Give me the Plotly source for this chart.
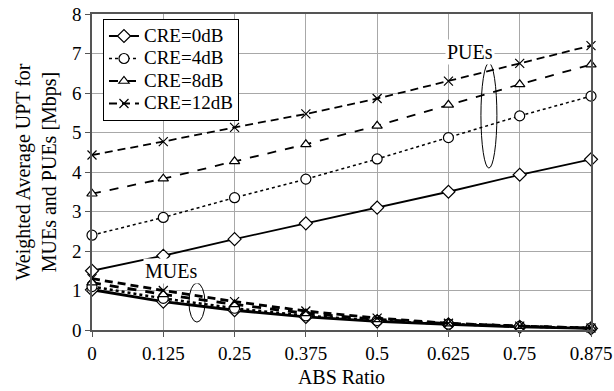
import plotly.graph_objects as go

abs_ratio = [0, 0.125, 0.25, 0.375, 0.5, 0.625, 0.75, 0.875]
x_ticklabels = ["0", "0.125", "0.25", "0.375", "0.5", "0.625", "0.75", "0.875"]

pue_cre0 = [1.50, 1.88, 2.30, 2.70, 3.10, 3.50, 3.93, 4.32]
pue_cre4 = [2.40, 2.85, 3.35, 3.82, 4.33, 4.87, 5.42, 5.92]
pue_cre8 = [3.45, 3.83, 4.27, 4.70, 5.17, 5.70, 6.22, 6.72]
pue_cre12 = [4.43, 4.77, 5.13, 5.47, 5.86, 6.30, 6.75, 7.20]

mue_cre0 = [1.02, 0.72, 0.50, 0.33, 0.22, 0.14, 0.08, 0.04]
mue_cre4 = [1.10, 0.80, 0.55, 0.36, 0.24, 0.15, 0.09, 0.05]
mue_cre8 = [1.20, 0.90, 0.65, 0.42, 0.27, 0.16, 0.10, 0.05]
mue_cre12 = [1.30, 1.00, 0.72, 0.48, 0.30, 0.17, 0.10, 0.05]

series = [
    ("CRE=0dB", pue_cre0, mue_cre0, "solid", "diamond", 1.8, 10),
    ("CRE=4dB", pue_cre4, mue_cre4, "dot", "circle", 1.5, 10),
    ("CRE=8dB", pue_cre8, mue_cre8, "dash", "triangle-up", 1.8, 9),
    ("CRE=12dB", pue_cre12, mue_cre12, "8px,5px", "x-thin", 1.8, 9),
]

font_family = "Liberation Serif"
fig = go.Figure()
for name, pue, mue, dash, sym, w, ms in series:
    mk = dict(symbol=sym, size=ms, color="white", line=dict(color="black", width=1.2))
    fig.add_trace(go.Scatter(
        x=abs_ratio, y=pue, name='<span style="font-size:19px">' + name + '</span>',
        mode="lines+markers",
        line=dict(color="black", width=w, dash=dash),
        marker=mk, cliponaxis=False, legendgroup=name,
    ))
    fig.add_trace(go.Scatter(
        x=abs_ratio, y=mue, name=name, mode="lines+markers", showlegend=False,
        line=dict(color="black", width=w + 1, dash=dash),
        marker=mk, cliponaxis=False, legendgroup=name,
    ))

fig.add_shape(type="circle", xref="x", yref="y", x0=0.682, x1=0.710, y0=4.10, y1=6.76,
              line=dict(color="black", width=1))
fig.add_shape(type="circle", xref="x", yref="y", x0=0.170, x1=0.198, y0=0.20, y1=1.19,
              line=dict(color="black", width=1))
fig.add_annotation(x=0.663, y=7.04, xref="x", yref="y", text="PUEs", showarrow=False,
                   font=dict(size=20, color="black", family=font_family), bgcolor="white")
fig.add_annotation(x=0.139, y=1.5, xref="x", yref="y", text="MUEs", showarrow=False,
                   font=dict(size=20, color="black", family=font_family), bgcolor="white")

axis_common = dict(
    showline=True, linecolor="#555555", linewidth=1.5, mirror=True,
    showgrid=True, gridcolor="#a8a8a8", gridwidth=1,
    ticks="outside", ticklen=5, tickcolor="#555555",
    tickfont=dict(size=19, color="black", family=font_family),
    zeroline=False, automargin=False,
)
fig.update_xaxes(range=[0, 0.875], tickvals=abs_ratio, ticktext=x_ticklabels,
                 title=dict(text="ABS Ratio", font=dict(size=20, color="black", family=font_family), standoff=7),
                 **axis_common)
fig.update_yaxes(range=[0, 8], dtick=1,
                 title=dict(text="Weighted Average UPT for<br>MUEs and PUEs [Mbps]",
                            font=dict(size=20, color="black", family=font_family), standoff=10),
                 **axis_common)

fig.update_layout(
    width=614, height=391,
    margin=dict(l=92, r=23, t=14, b=61),
    paper_bgcolor="white", plot_bgcolor="white",
    font=dict(family=font_family, color="black"),
    legend=dict(x=0.022, y=0.985, xanchor="left", yanchor="top",
                bgcolor="white", bordercolor="black", borderwidth=1,
                font=dict(size=15, color="black", family=font_family),
                tracegroupgap=0, itemwidth=30),
)

fig.write_html("out.html")
